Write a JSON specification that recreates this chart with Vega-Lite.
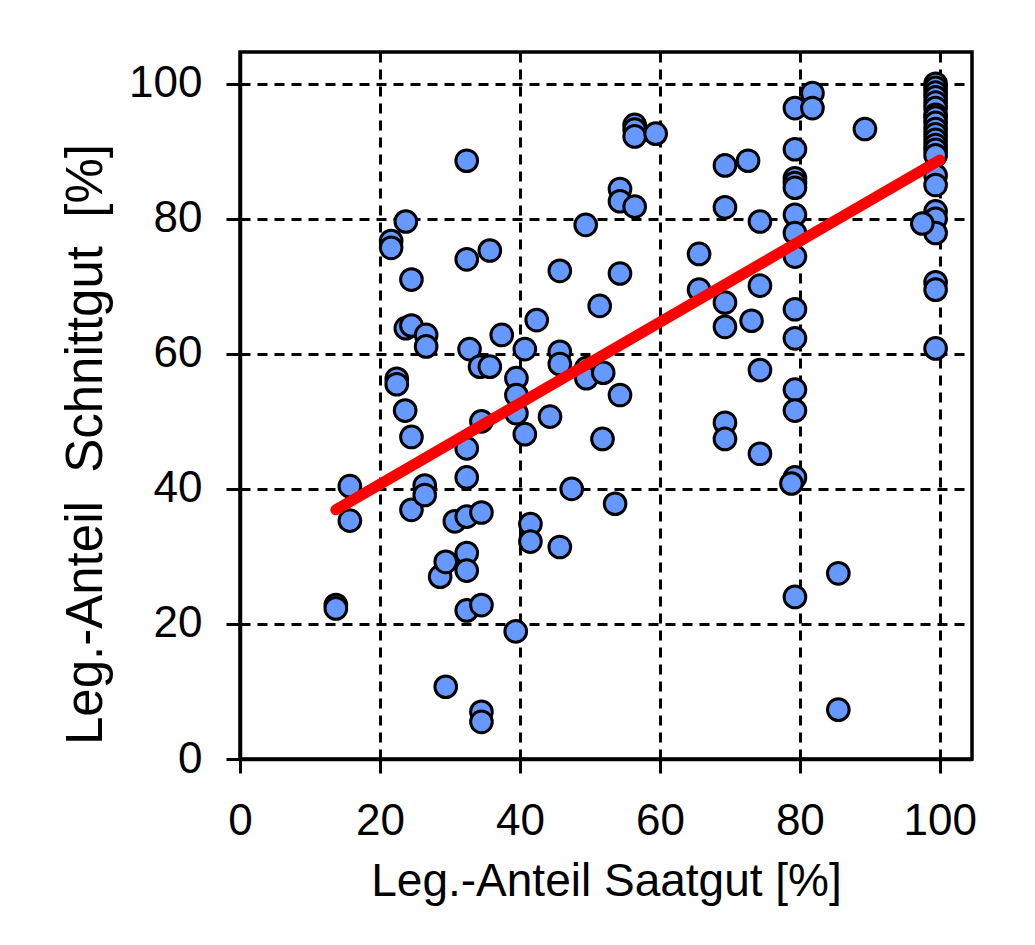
{
  "$schema": "https://vega.github.io/schema/vega-lite/v6.json",
  "width": 732,
  "height": 707,
  "autosize": {"type": "none"},
  "padding": {"left": 240, "top": 52, "right": 63, "bottom": 186},
  "background": "white",
  "config": {
    "font": "Liberation Sans",
    "view": {"stroke": "black", "strokeWidth": 3.5},
    "axis": {
      "domainColor": "black", "domainWidth": 3.5,
      "tickColor": "black", "tickWidth": 3, "tickSize": 14,
      "gridColor": "black", "gridDash": [10, 7], "gridWidth": 3, "gridOpacity": 1,
      "labelFont": "Liberation Sans", "labelFontSize": 44, "labelColor": "black", "labelFlush": false,
      "titleFont": "Liberation Sans", "titleFontSize": 46, "titleFontWeight": "normal", "titleColor": "black"
    }
  },
  "datasets": {
    "points": [
      {"x": 13.7, "y": 22.8}, {"x": 13.7, "y": 22.3},
      {"x": 15.7, "y": 40.4}, {"x": 15.7, "y": 35.3},
      {"x": 21.6, "y": 76.7}, {"x": 21.6, "y": 75.7},
      {"x": 23.7, "y": 79.6}, {"x": 24.5, "y": 71.0},
      {"x": 23.7, "y": 63.8}, {"x": 24.5, "y": 64.2},
      {"x": 26.6, "y": 62.8}, {"x": 26.6, "y": 61.1},
      {"x": 22.4, "y": 56.3}, {"x": 22.4, "y": 55.5},
      {"x": 23.6, "y": 51.6}, {"x": 24.5, "y": 47.7},
      {"x": 24.5, "y": 36.9},
      {"x": 26.4, "y": 40.5}, {"x": 26.4, "y": 39.1},
      {"x": 28.6, "y": 27.0}, {"x": 29.4, "y": 29.2},
      {"x": 29.4, "y": 10.7}, {"x": 30.7, "y": 35.2},
      {"x": 32.4, "y": 88.6}, {"x": 32.4, "y": 74.0},
      {"x": 35.7, "y": 75.3}, {"x": 32.8, "y": 60.7},
      {"x": 32.4, "y": 46.0}, {"x": 32.4, "y": 41.7},
      {"x": 32.4, "y": 35.9}, {"x": 32.4, "y": 30.5},
      {"x": 32.4, "y": 27.9}, {"x": 32.4, "y": 22.0},
      {"x": 34.3, "y": 58.1}, {"x": 35.7, "y": 58.1},
      {"x": 34.5, "y": 50.0}, {"x": 34.5, "y": 36.5},
      {"x": 34.5, "y": 22.8}, {"x": 34.5, "y": 7.0}, {"x": 34.5, "y": 5.5},
      {"x": 37.4, "y": 62.8},
      {"x": 39.5, "y": 56.4}, {"x": 39.5, "y": 53.9}, {"x": 39.5, "y": 51.2},
      {"x": 39.4, "y": 18.9},
      {"x": 40.7, "y": 60.7}, {"x": 40.7, "y": 48.1},
      {"x": 41.5, "y": 34.8}, {"x": 41.5, "y": 32.2},
      {"x": 42.4, "y": 65.0}, {"x": 44.3, "y": 50.7},
      {"x": 45.7, "y": 72.3}, {"x": 45.7, "y": 60.3}, {"x": 45.7, "y": 58.5},
      {"x": 45.7, "y": 31.4}, {"x": 47.4, "y": 40.0},
      {"x": 49.4, "y": 79.1}, {"x": 49.5, "y": 57.9}, {"x": 49.5, "y": 56.4},
      {"x": 51.4, "y": 67.1}, {"x": 51.9, "y": 57.2}, {"x": 51.8, "y": 47.4},
      {"x": 53.6, "y": 37.8},
      {"x": 54.3, "y": 84.4}, {"x": 54.3, "y": 82.6},
      {"x": 54.3, "y": 71.9}, {"x": 54.3, "y": 53.9},
      {"x": 56.4, "y": 93.9}, {"x": 56.4, "y": 93.2}, {"x": 56.4, "y": 92.2},
      {"x": 56.4, "y": 81.8}, {"x": 59.4, "y": 92.6},
      {"x": 65.6, "y": 74.8}, {"x": 65.6, "y": 69.5},
      {"x": 69.3, "y": 87.9}, {"x": 69.3, "y": 81.7},
      {"x": 69.3, "y": 67.6}, {"x": 69.3, "y": 64.0},
      {"x": 69.3, "y": 49.8}, {"x": 69.3, "y": 47.4},
      {"x": 72.6, "y": 88.6}, {"x": 73.1, "y": 64.9},
      {"x": 74.3, "y": 79.6}, {"x": 74.3, "y": 70.1},
      {"x": 74.3, "y": 57.6}, {"x": 74.3, "y": 45.2},
      {"x": 79.3, "y": 96.4}, {"x": 81.8, "y": 98.6}, {"x": 81.8, "y": 96.4},
      {"x": 79.3, "y": 90.3},
      {"x": 79.3, "y": 86.0}, {"x": 79.3, "y": 85.3}, {"x": 79.3, "y": 84.6},
      {"x": 79.3, "y": 80.6}, {"x": 79.3, "y": 77.9}, {"x": 79.3, "y": 74.4},
      {"x": 79.3, "y": 66.6}, {"x": 79.3, "y": 62.3}, {"x": 79.3, "y": 54.7},
      {"x": 79.3, "y": 51.6}, {"x": 79.3, "y": 41.7}, {"x": 78.8, "y": 40.8},
      {"x": 79.3, "y": 24.0},
      {"x": 85.5, "y": 27.5}, {"x": 85.5, "y": 7.3},
      {"x": 89.3, "y": 93.3},
      {"x": 99.4, "y": 100.0}, {"x": 99.4, "y": 99.4}, {"x": 99.4, "y": 98.7},
      {"x": 99.4, "y": 98.0}, {"x": 99.4, "y": 97.2}, {"x": 99.4, "y": 96.4},
      {"x": 99.4, "y": 95.4}, {"x": 99.4, "y": 95.0}, {"x": 99.4, "y": 94.2},
      {"x": 99.4, "y": 93.3}, {"x": 99.4, "y": 92.5}, {"x": 99.4, "y": 91.7},
      {"x": 99.4, "y": 90.9}, {"x": 99.4, "y": 90.2}, {"x": 99.4, "y": 89.4},
      {"x": 99.4, "y": 86.4}, {"x": 99.4, "y": 85.0},
      {"x": 99.4, "y": 81.1}, {"x": 99.4, "y": 80.0}, {"x": 99.4, "y": 77.9},
      {"x": 97.5, "y": 79.3},
      {"x": 99.4, "y": 70.6}, {"x": 99.4, "y": 69.5}, {"x": 99.4, "y": 60.8}
    ],
    "fit": [
      {"x": 13.7, "y": 36.9},
      {"x": 100, "y": 88.7}
    ]
  },
  "layer": [
    {
      "data": {"name": "points"},
      "mark": {"type": "circle", "color": "#6699ff", "opacity": 1, "stroke": "black", "strokeWidth": 3, "size": 470},
      "encoding": {
        "x": {
          "field": "x", "type": "quantitative",
          "scale": {"domain": [0, 104.6], "nice": false},
          "axis": {"values": [0, 20, 40, 60, 80, 100], "title": "Leg.-Anteil Saatgut [%]", "labelPadding": 26, "titlePadding": 16}
        },
        "y": {
          "field": "y", "type": "quantitative",
          "scale": {"domain": [0, 104.7], "nice": false},
          "axis": {"values": [0, 20, 40, 60, 80, 100], "title": "Leg.-Anteil\u00a0\u00a0Schnittgut\u00a0\u00a0[%]", "titleFontSize": 51, "labelPadding": 24, "titleX": -128, "titleY": 392}
        }
      }
    },
    {
      "data": {"name": "fit"},
      "mark": {"type": "line", "color": "#ff0000", "strokeWidth": 11, "strokeCap": "round"},
      "encoding": {
        "x": {"field": "x", "type": "quantitative"},
        "y": {"field": "y", "type": "quantitative"}
      }
    }
  ]
}
